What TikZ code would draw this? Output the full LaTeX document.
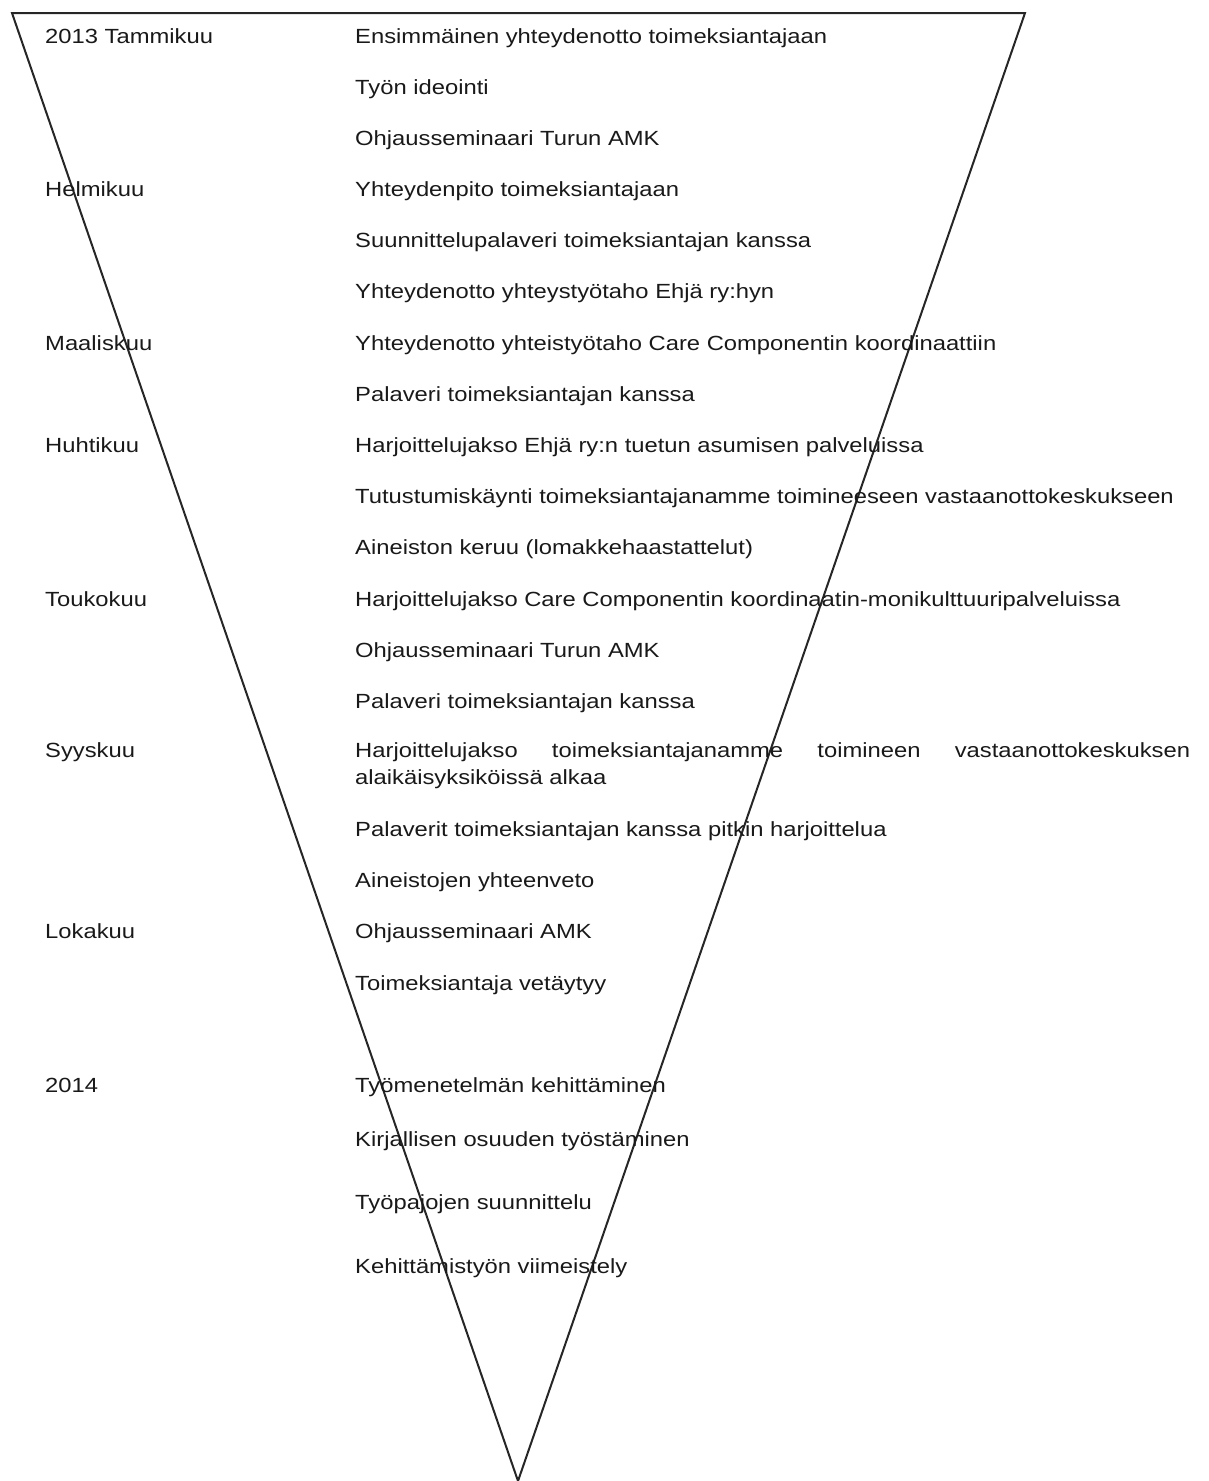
\documentclass[tikz,border=0pt]{standalone}
\usepackage{fontspec}
\setmainfont[FakeStretch=1.16]{Liberation Sans}
\begin{document}
\begin{tikzpicture}[x=1pt,y=-1pt,
  lbl/.style={anchor=base west,inner sep=0pt,text=black!90,font=\fontsize{20.5}{25}\selectfont},
  edge/.style={line width=2pt,black!85,line join=miter}]
\useasboundingbox (0,0) rectangle (1208,1481);
\coordinate (tl) at (12,13);
\coordinate (tr) at (1025,13);
\coordinate (bt) at (518,1481);
\draw[edge] (tl) -- (tr) -- (bt) -- cycle;
% months
\node[lbl] (m1) at (45,43) {2013 Tammikuu};
\node[lbl] (m2) at (45,196) {Helmikuu};
\node[lbl] (m3) at (45,350) {Maaliskuu};
\node[lbl] (m4) at (45,452) {Huhtikuu};
\node[lbl] (m5) at (45,606) {Toukokuu};
\node[lbl] (m6) at (45,757) {Syyskuu};
\node[lbl] (m7) at (45,938) {Lokakuu};
\node[lbl] (m8) at (45,1092) {2014};
% events
\node[lbl] (e1) at (355,43) {Ensimmäinen yhteydenotto toimeksiantajaan};
\node[lbl] (e2) at (355,94) {Työn ideointi};
\node[lbl] (e3) at (355,145) {Ohjausseminaari Turun AMK};
\node[lbl] (e4) at (355,196) {Yhteydenpito toimeksiantajaan};
\node[lbl] (e5) at (355,247) {Suunnittelupalaveri toimeksiantajan kanssa};
\node[lbl] (e6) at (355,298) {Yhteydenotto yhteystyötaho Ehjä ry:hyn};
\node[lbl] (e7) at (355,350) {Yhteydenotto yhteistyötaho Care Componentin koordinaattiin};
\node[lbl] (e8) at (355,401) {Palaveri toimeksiantajan kanssa};
\node[lbl] (e9) at (355,452) {Harjoittelujakso Ehjä ry:n tuetun asumisen palveluissa};
\node[lbl] (e10) at (355,503) {Tutustumiskäynti toimeksiantajanamme toimineeseen vastaanottokeskukseen};
\node[lbl] (e11) at (355,554) {Aineiston keruu (lomakkehaastattelut)};
\node[lbl] (e12) at (355,606) {Harjoittelujakso Care Componentin koordinaatin-monikulttuuripalveluissa};
\node[lbl] (e13) at (355,657) {Ohjausseminaari Turun AMK};
\node[lbl] (e14) at (355,708) {Palaveri toimeksiantajan kanssa};
\node[lbl] (e15) at (355,757) {\makebox[835pt][s]{Harjoittelujakso\hfill toimeksiantajanamme\hfill toimineen\hfill vastaanottokeskuksen}};
\node[lbl] (e15b) at (355,784) {alaikäisyksiköissä alkaa};
\node[lbl] (e16) at (355,836) {Palaverit toimeksiantajan kanssa pitkin harjoittelua};
\node[lbl] (e17) at (355,887) {Aineistojen yhteenveto};
\node[lbl] (e18) at (355,938) {Ohjausseminaari AMK};
\node[lbl] (e19) at (355,990) {Toimeksiantaja vetäytyy};
\node[lbl] (e20) at (355,1092) {Työmenetelmän kehittäminen};
\node[lbl] (e21) at (355,1146) {Kirjallisen osuuden työstäminen};
\node[lbl] (e22) at (355,1209) {Työpajojen suunnittelu};
\node[lbl] (e23) at (355,1273) {Kehittämistyön viimeistely};
\end{tikzpicture}
\end{document}
